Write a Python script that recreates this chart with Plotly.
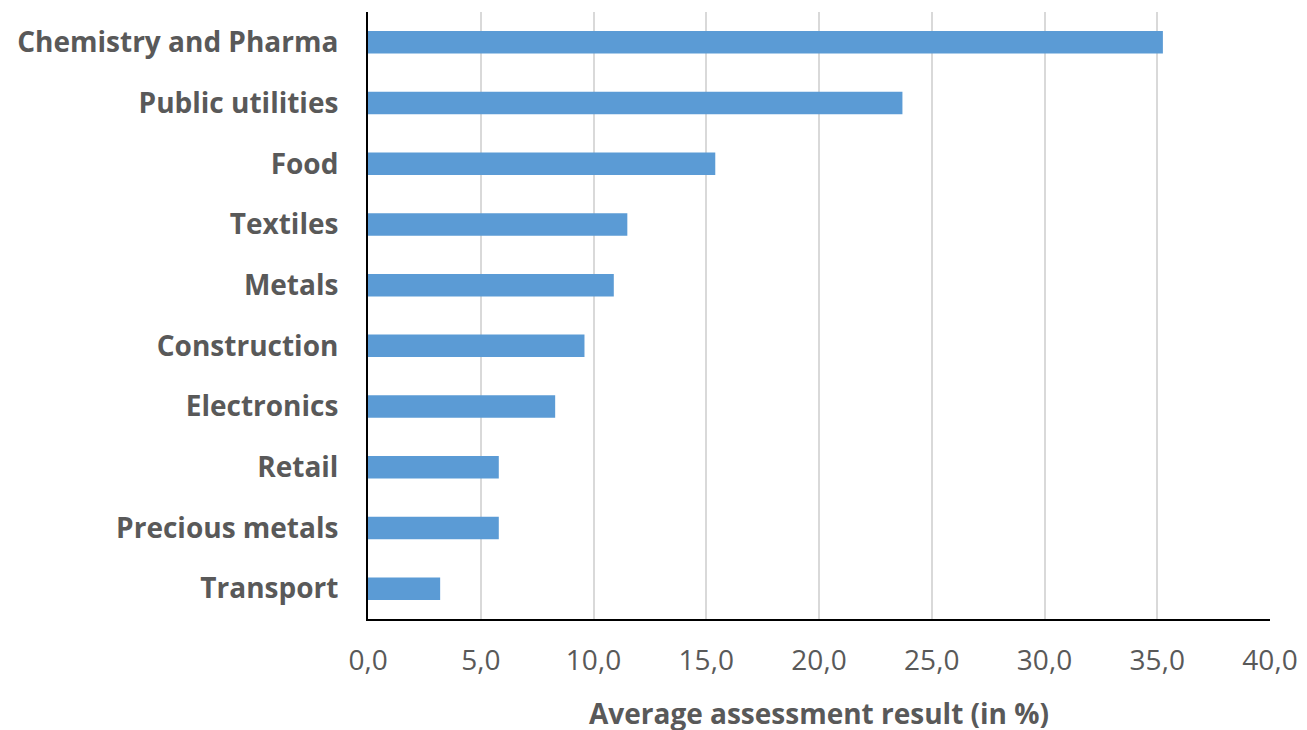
import plotly.graph_objects as go

categories = ["Chemistry and Pharma", "Public utilities", "Food", "Textiles", "Metals",
              "Construction", "Electronics", "Retail", "Precious metals", "Transport"]
values = [35.25, 23.7, 15.4, 11.5, 10.9, 9.6, 8.3, 5.8, 5.8, 3.2]
x_ticks = [0, 5, 10, 15, 20, 25, 30, 35, 40]

text_color = "#595959"

fig = go.Figure(go.Bar(
    y=categories, x=values, orientation="h",
    marker=dict(color="#5B9BD5", line=dict(width=0)),
    width=0.37,
))

fig.update_layout(
    width=1307, height=730,
    margin=dict(l=360, r=45, t=4, b=119),
    paper_bgcolor="white", plot_bgcolor="white",
    separators=",.",
    showlegend=False,
    font=dict(family="Open Sans", color=text_color),
    xaxis=dict(
        range=[0, 40], tickvals=x_ticks, tickformat=".1f",
        showgrid=True, gridcolor="#D9D9D9", gridwidth=2,
        zeroline=False,
        showline=True, linecolor="black", linewidth=2,
        ticks="", ticklabelstandoff=15,
        tickfont=dict(size=28, color=text_color),
        title=dict(text="<b>Average assessment result (in %)</b>",
                   font=dict(size=28, color=text_color), standoff=28),
    ),
    yaxis=dict(
        autorange="reversed",
        showgrid=False, zeroline=False,
        showline=True, linecolor="black", linewidth=2,
        ticks="", ticklabelstandoff=22,
        tickfont=dict(size=28, color=text_color, weight="bold"),
    ),
)

fig.write_html("out.html")
